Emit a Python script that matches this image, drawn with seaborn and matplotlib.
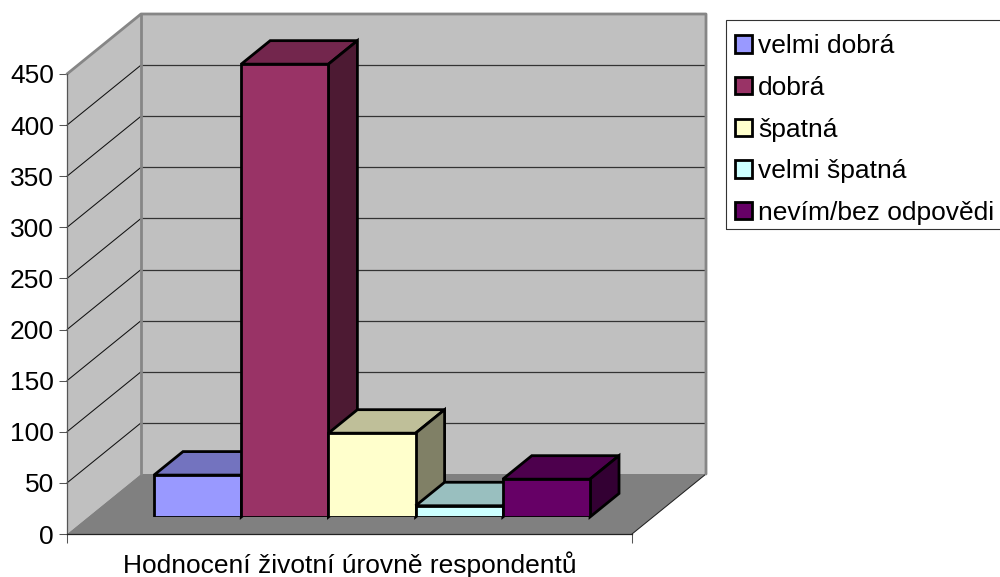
import matplotlib
matplotlib.use("Agg")
import matplotlib.pyplot as plt
import pandas as pd
import seaborn as sns
from matplotlib.patches import Polygon, Rectangle

# Hodnoty
kategorie = ["velmi dobrá", "dobrá", "špatná", "velmi špatná", "nevím/bez odpovědi"]
pocty = [41, 443, 82, 11, 37]
barvy = ["#9999FF", "#993366", "#FFFFCC", "#CCFFFF", "#660066"]
popisek_x = "Hodnocení životní úrovně respondentů"
tiky_y = [0, 50, 100, 150, 200, 250, 300, 350, 400, 450]

W, H = 1000, 577

sns.set_theme(style="white")
plt.rcParams["font.family"] = ["Liberation Sans", "DejaVu Sans"]

data = pd.DataFrame({"osa": [popisek_x] * 5, "hodnoceni": kategorie, "pocet": pocty})

fig = plt.figure(figsize=(W / 100, H / 100), dpi=100, facecolor="white")


def px_axes(x0, y0, w, h):
    # y0 = spodni okraj v pixelech odshora
    return fig.add_axes([x0 / W, 1 - y0 / H, w / W, h / H])


# predni rovina grafu - osy a steny
ax = px_axes(67, 534, 565, 460)
ax.set_facecolor("none")
ax.set_xlim(-0.5, 0.5)
ax.set_ylim(0, 450)

# hloubka grafu v jednotkach os
hl_x = 74 / 565
hl_y = 60 / (460 / 450)

sten = "#C0C0C0"
podlaha = "#808080"
okraj = dict(color="#868686", lw=2, clip_on=False, zorder=2, solid_capstyle="round")

ax.add_patch(Polygon([(-0.5 + hl_x, hl_y), (0.5 + hl_x, hl_y), (0.5 + hl_x, 450 + hl_y), (-0.5 + hl_x, 450 + hl_y)],
                     fc=sten, ec="none", clip_on=False, zorder=1))
ax.add_patch(Polygon([(-0.5, 0), (-0.5 + hl_x, hl_y), (-0.5 + hl_x, 450 + hl_y), (-0.5, 450)],
                     fc=sten, ec="none", clip_on=False, zorder=1))
ax.add_patch(Polygon([(-0.5, 0), (0.5, 0), (0.5 + hl_x, hl_y), (-0.5 + hl_x, hl_y)],
                     fc=podlaha, ec="none", clip_on=False, zorder=1))

# mrizka na zadni a bocni stene
for t in tiky_y[1:-1]:
    ax.plot([-0.5, -0.5 + hl_x], [t, t + hl_y], color="#111111", lw=0.75, clip_on=False, zorder=1.5)
    ax.plot([-0.5 + hl_x, 0.5 + hl_x], [t + hl_y, t + hl_y], color="#333333", lw=0.9, clip_on=False, zorder=1.5)

ax.plot([-0.5, -0.5 + hl_x, 0.5 + hl_x, 0.5 + hl_x], [450, 450 + hl_y, 450 + hl_y, hl_y], **okraj)
ax.plot([-0.5 + hl_x, -0.5 + hl_x], [hl_y, 450 + hl_y], **okraj)
ax.plot([0.5, 0.5 + hl_x], [0, hl_y], color="#222222", lw=0.75, clip_on=False, zorder=1.5)

for s in ["top", "right"]:
    ax.spines[s].set_visible(False)
ax.spines["left"].set_color("#555555")
ax.spines["left"].set_linewidth(0.9)
ax.spines["bottom"].set_color("#222222")
ax.spines["bottom"].set_linewidth(0.9)

ax.set_yticks(tiky_y)
ax.set_xticks([-0.5, 0.5])
ax.set_xticklabels(["", ""])
ax.tick_params(axis="y", left=True, length=5.8, width=0.75, color="#555555", labelsize=19, pad=3.5, labelcolor="black")
ax.tick_params(axis="x", bottom=True, length=6.5, width=0.75, color="#555555", pad=0)
ax.set_xlabel(popisek_x, fontsize=19, color="black", labelpad=1)
ax.xaxis.set_label_coords((350 - 67) / 565, -(565 - 534) / 460, transform=ax.transAxes)
ax.xaxis.label.set_verticalalignment("center")

# sloupce - posunute do hloubky o kus od predni roviny
ax_bar = px_axes(89.5, 517, 565, 460)
sns.barplot(data=data, x="osa", y="pocet", hue="hodnoceni", hue_order=kategorie, palette=barvy,
            width=436 / 565, saturation=1, gap=0, edgecolor="black", linewidth=2, ax=ax_bar)
ax_bar.set_xlim(-0.5, 0.5)
ax_bar.set_ylim(0, 450)
ax_bar.patch.set_visible(False)
for s in ax_bar.spines.values():
    s.set_visible(False)
ax_bar.set_xlabel("")
ax_bar.set_ylabel("")
ax_bar.set_xticks([])
ax_bar.set_yticks([])

# hloubka sloupce
d_x = 29 / 565
d_y = 23.5 / (460 / 450)


def ztmav(barva, k):
    r, g, b = matplotlib.colors.to_rgb(barva)
    return (r * k, g * k, b * k)


for i, (kont, barva) in enumerate(zip(ax_bar.containers, barvy)):
    p = kont[0]
    x0, x1 = p.get_x(), p.get_x() + p.get_width()
    y1 = p.get_height()
    p.set_zorder(10 + 2 * i)
    p.set_joinstyle("miter")
    ax_bar.add_patch(Polygon([(x0, y1), (x1, y1), (x1 + d_x, y1 + d_y), (x0 + d_x, y1 + d_y)],
                             fc=ztmav(barva, 0.75), ec="black", lw=2, clip_on=False, zorder=9 + 2 * i))
    ax_bar.add_patch(Polygon([(x1, 0), (x1 + d_x, d_y), (x1 + d_x, y1 + d_y), (x1, y1)],
                             fc=ztmav(barva, 0.5), ec="black", lw=2, clip_on=False, zorder=9 + 2 * i))

# legenda - ramecek zvlast, vpravo presahuje okraj obrazku
handles, labels = ax_bar.get_legend_handles_labels()
leg = ax_bar.legend(handles, labels, loc="upper left", bbox_to_anchor=(723.5 / W, 1 - 23 / H),
                    bbox_transform=fig.transFigure, fontsize=19, frameon=False, borderaxespad=0, borderpad=0.43,
                    handlelength=0.64, handleheight=0.64, handletextpad=0.23, labelspacing=0.667)
leg.set_zorder(50)
for t in leg.get_texts():
    t.set_color("black")
fig.add_artist(Rectangle((726 / W, 1 - 229 / H), 300 / W, 209 / H, fill=False, ec="#333333", lw=0.8,
                         transform=fig.transFigure))

fig.savefig("out.png", dpi=100)
